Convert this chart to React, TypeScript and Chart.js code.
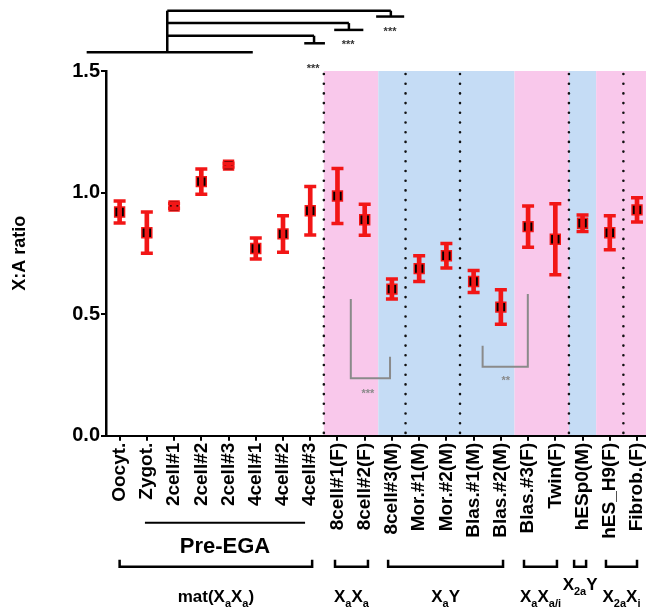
import React, { useEffect, useRef } from 'react';
import { Chart, registerables } from 'chart.js';

Chart.register(...registerables);

const FONT = '"Liberation Sans", Arial, Helvetica, sans-serif';

// ---- data ----
const categories = [
  'Oocyt.', 'Zygot.', '2cell#1', '2cell#2', '2cell#3', '4cell#1', '4cell#2', '4cell#3',
  '8cell#1(F)', '8cell#2(F)', '8cell#3(M)', 'Mor.#1(M)', 'Mor.#2(M)', 'Blas.#1(M)',
  'Blas.#2(M)', 'Blas.#3(F)', 'Twin(F)', 'hESp0(M)', 'hES_H9(F)', 'Fibrob.(F)',
];
const means = [
  0.92, 0.835, 0.945, 1.045, 1.113, 0.77, 0.83, 0.925,
  0.986, 0.888, 0.603, 0.687, 0.74, 0.634,
  0.529, 0.86, 0.808, 0.874, 0.835, 0.929,
];
const errors = [
  0.045, 0.085, 0.01, 0.052, 0.008, 0.043, 0.075, 0.1,
  0.113, 0.064, 0.041, 0.053, 0.05, 0.045,
  0.071, 0.085, 0.146, 0.034, 0.07, 0.05,
];
const yTickValues = [0, 0.5, 1.0, 1.5];

// shaded regions (category units) and sex of each region
const bandFrom = [7.5, 9.5, 14.5, 16.5, 17.5];
const bandTo = [9.5, 14.5, 16.5, 17.5, 19.5];
const bandSex = ['F', 'M', 'F', 'M', 'F'];
const dividers = [7.5, 10.5, 12.5, 16.5, 18.5];

// group brackets below the axis (category units)
const groupFrom = [0, 7.91, 9.86, 14.85, 16.69, 17.86];
const groupTo = [7.07, 9.12, 14.08, 16.06, 17.13, 19.0];
type Part = { t: string; s?: boolean };
const groupLabels: Part[][] = [
  [{ t: 'mat(X' }, { t: 'a', s: true }, { t: 'X' }, { t: 'a', s: true }, { t: ')' }],
  [{ t: 'X' }, { t: 'a', s: true }, { t: 'X' }, { t: 'a', s: true }],
  [{ t: 'X' }, { t: 'a', s: true }, { t: 'Y' }],
  [{ t: 'X' }, { t: 'a', s: true }, { t: 'X' }, { t: 'a/i', s: true }],
  [{ t: 'X' }, { t: '2a', s: true }, { t: 'Y' }],
  [{ t: 'X' }, { t: '2a', s: true }, { t: 'X' }, { t: 'i', s: true }],
];
const groupRaised = [false, false, false, false, true, false];
const preEgaSpan = [0.93, 6.81];

// significance annotations (x in category units, y in ratio units)
const topSegments = [
  [-1.21, 1.577, 4.89, 1.577],
  [1.75, 1.577, 1.75, 1.748],
  [1.75, 1.748, 9.96, 1.748],
  [1.75, 1.697, 8.42, 1.697],
  [1.75, 1.645, 7.14, 1.645],
  [9.96, 1.748, 9.96, 1.724],
  [9.42, 1.724, 10.45, 1.724],
  [8.42, 1.697, 8.42, 1.669],
  [7.88, 1.669, 8.95, 1.669],
  [7.14, 1.645, 7.14, 1.614],
  [6.78, 1.614, 7.54, 1.614],
];
const topStars = [
  [9.93, 1.669],
  [8.39, 1.614],
  [7.11, 1.518],
];
const innerBrackets = [
  // [xLeft, yLeftTop, xRight, yRightTop, yBottom]
  [8.49, 0.562, 9.93, 0.325, 0.236],
  [13.33, 0.37, 14.99, 0.583, 0.284],
];
const innerStarText = ['***', '**'];
const innerStarPos = [
  [9.12, 0.181],
  [14.18, 0.232],
];

const RED = '#f21616';
const PINK = '#f9c8eb';
const BLUE = '#c5dcf5';
const GRAY = '#8a8a8a';

function drawRich(ctx: CanvasRenderingContext2D, parts: Part[], cx: number, baseline: number, size: number) {
  const main = `bold ${size}px ${FONT}`;
  const sub = `bold ${Math.round(size * 0.66)}px ${FONT}`;
  const widths = parts.map((p) => {
    ctx.font = p.s ? sub : main;
    return ctx.measureText(p.t).width;
  });
  const total = widths.reduce((a, b) => a + b, 0);
  let xp = cx - total / 2;
  ctx.textAlign = 'left';
  ctx.textBaseline = 'alphabetic';
  parts.forEach((p, i) => {
    ctx.font = p.s ? sub : main;
    ctx.fillText(p.t, xp, baseline + (p.s ? size * 0.3 : 0));
    xp += widths[i];
  });
}

const decorPlugin = {
  id: 'decor',
  beforeDraw(chart: any) {
    const { ctx, chartArea: a, scales } = chart;
    const x = scales.x;
    ctx.save();
    for (let i = 0; i < bandFrom.length; i++) {
      const x0 = x.getPixelForValue(bandFrom[i]);
      const x1 = Math.min(x.getPixelForValue(bandTo[i]), chart.width);
      ctx.fillStyle = bandSex[i] === 'F' ? PINK : BLUE;
      ctx.fillRect(x0, a.top, x1 - x0, a.bottom - a.top);
    }
    ctx.strokeStyle = '#111';
    ctx.lineWidth = 2.6;
    ctx.lineCap = 'round';
    ctx.setLineDash([0, 9.7]);
    for (const d of dividers) {
      const px = x.getPixelForValue(d);
      ctx.beginPath();
      ctx.moveTo(px, a.top + 3);
      ctx.lineTo(px, a.bottom);
      ctx.stroke();
    }
    ctx.restore();
  },
  afterDraw(chart: any) {
    const { ctx, chartArea: a, scales } = chart;
    const x = scales.x;
    const y = scales.y;
    ctx.save();
    // top significance brackets
    ctx.strokeStyle = '#000';
    ctx.lineWidth = 2.5;
    ctx.lineCap = 'butt';
    for (const s of topSegments) {
      ctx.beginPath();
      ctx.moveTo(x.getPixelForValue(s[0]), y.getPixelForValue(s[1]));
      ctx.lineTo(x.getPixelForValue(s[2]), y.getPixelForValue(s[3]));
      ctx.stroke();
    }
    ctx.fillStyle = '#333';
    ctx.font = `bold 11px ${FONT}`;
    ctx.textAlign = 'center';
    ctx.textBaseline = 'middle';
    for (const s of topStars) {
      ctx.fillText('***', x.getPixelForValue(s[0]), y.getPixelForValue(s[1]) + 2);
    }
    // inner gray brackets
    ctx.strokeStyle = GRAY;
    ctx.lineWidth = 2;
    innerBrackets.forEach((b, i) => {
      const xl = x.getPixelForValue(b[0]);
      const xr = x.getPixelForValue(b[2]);
      const yb = y.getPixelForValue(b[4]);
      ctx.beginPath();
      ctx.moveTo(xl, y.getPixelForValue(b[1]));
      ctx.lineTo(xl, yb);
      ctx.lineTo(xr, yb);
      ctx.lineTo(xr, y.getPixelForValue(b[3]));
      ctx.stroke();
      ctx.fillStyle = GRAY;
      ctx.font = `bold 11px ${FONT}`;
      ctx.fillText(innerStarText[i], x.getPixelForValue(innerStarPos[i][0]), y.getPixelForValue(innerStarPos[i][1]) + 2);
    });
    // Pre-EGA
    ctx.strokeStyle = '#000';
    ctx.fillStyle = '#000';
    ctx.lineWidth = 2;
    const ly = a.bottom + 87;
    ctx.beginPath();
    ctx.moveTo(x.getPixelForValue(preEgaSpan[0]), ly);
    ctx.lineTo(x.getPixelForValue(preEgaSpan[1]), ly);
    ctx.stroke();
    ctx.font = `bold 22px ${FONT}`;
    ctx.textAlign = 'center';
    ctx.textBaseline = 'middle';
    ctx.fillText('Pre-EGA', (x.getPixelForValue(preEgaSpan[0]) + x.getPixelForValue(preEgaSpan[1])) / 2, a.bottom + 111);
    // group brackets
    ctx.lineWidth = 2.5;
    const by = a.bottom + 131;
    for (let i = 0; i < groupFrom.length; i++) {
      const x0 = x.getPixelForValue(groupFrom[i]);
      const x1 = x.getPixelForValue(groupTo[i]);
      ctx.beginPath();
      ctx.moveTo(x0, by - 7);
      ctx.lineTo(x0, by);
      ctx.lineTo(x1, by);
      ctx.lineTo(x1, by - 7);
      ctx.stroke();
      const base = groupRaised[i] ? a.bottom + 154.5 : a.bottom + 166;
      drawRich(ctx, groupLabels[i], (x0 + x1) / 2, base, 17);
    }
    ctx.restore();
  },
};

export default function App() {
  const ref = useRef<HTMLCanvasElement | null>(null);

  useEffect(() => {
    if (!ref.current) return;
    const markerData = means.map((m, i) => ({ x: i, y: m }));
    const barData = means.map((m, i) => ({ x: i, y: [m - errors[i], m + errors[i]] }));
    const capData = [
      ...means.map((m, i) => ({ x: i, y: m - errors[i] })),
      ...means.map((m, i) => ({ x: i, y: m + errors[i] })),
    ];
    const chart = new Chart(ref.current, {
      type: 'bar',
      data: {
        datasets: [
          {
            type: 'scatter',
            data: markerData,
            pointStyle: 'rect',
            pointRadius: 7,
            pointHoverRadius: 7,
            backgroundColor: '#000',
            borderColor: RED,
            borderWidth: 1.5,
            order: 3,
          } as any,
          {
            type: 'bar',
            data: barData,
            backgroundColor: RED,
            borderWidth: 0,
            barThickness: 4,
            order: 2,
          } as any,
          {
            type: 'scatter',
            data: capData,
            pointStyle: 'line',
            pointRadius: 6,
            pointHoverRadius: 6,
            borderColor: RED,
            borderWidth: 3.5,
            order: 1,
          } as any,
        ],
      },
      options: {
        responsive: false,
        animation: false,
        layout: { autoPadding: false, padding: { left: 0, top: 71, right: 0, bottom: 0 } },
        plugins: { legend: { display: false }, tooltip: { enabled: false } },
        scales: {
          x: {
            type: 'linear',
            offset: false,
            min: -0.5,
            max: 19.33,
            afterBuildTicks: (axis: any) => {
              axis.ticks = categories.map((_, i) => ({ value: i }));
            },
            afterFit: (s: any) => {
              s.height = 174.3;
              s.paddingLeft = 0;
              s.paddingRight = 0;
            },
            ticks: {
              autoSkip: false,
              maxRotation: 90,
              minRotation: 90,
              padding: 2,
              color: '#000',
              font: { family: FONT, size: 19, weight: 'bold' },
              callback: (v: any) => categories[Math.round(Number(v))] ?? '',
            },
            grid: { offset: false, drawOnChartArea: false, tickLength: 5, color: '#000', lineWidth: 2 },
            border: { display: true, color: '#000', width: 2 },
          },
          y: {
            type: 'linear',
            min: 0,
            max: 1.5,
            afterBuildTicks: (axis: any) => {
              axis.ticks = yTickValues.map((v) => ({ value: v }));
            },
            afterFit: (s: any) => {
              s.width = 106;
            },
            ticks: {
              padding: 1,
              color: '#000',
              font: { family: FONT, size: 20, weight: 'bold' },
              callback: (v: any) => Number(v).toFixed(1),
            },
            grid: { drawOnChartArea: false, tickLength: 5, color: '#000', lineWidth: 2 },
            border: { display: true, color: '#000', width: 2.5 },
            title: {
              display: true,
              text: 'X:A ratio',
              color: '#000',
              font: { family: FONT, size: 18, weight: 'bold' },
              padding: { top: 9, bottom: 0 },
            },
          },
        },
      } as any,
      plugins: [decorPlugin as any],
    });
    return () => chart.destroy();
  }, []);

  return (
    <div style={{ position: 'absolute', left: 0, top: 0, width: 646, height: 610, background: '#fff' }}>
      <canvas ref={ref} width={646} height={610} />
    </div>
  );
}
